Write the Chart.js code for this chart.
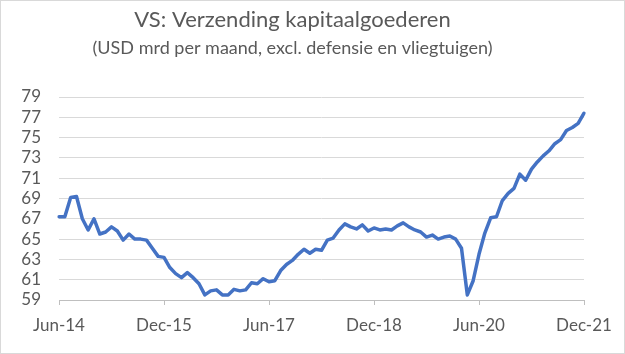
<!DOCTYPE html>
<html>
<head>
<meta charset="utf-8">
<script src="https://cdn.jsdelivr.net/npm/chart.js@4"></script>
<style>
  html, body { margin: 0; padding: 0; background: #fff; }
  #wrap {
    width: 625px; height: 354px; box-sizing: border-box;
    border: 1px solid #d9d9d9; background: #fff; position: relative;
  }
</style>
</head>
<body>
<div id="wrap"><canvas id="shipChart"></canvas></div>
<script>
// maandelijkse categorieen, jun-2014 t/m dec-2021
const months = [
  'Jun-14','Jul-14','Aug-14','Sep-14','Oct-14','Nov-14','Dec-14',
  'Jan-15','Feb-15','Mar-15','Apr-15','May-15','Jun-15','Jul-15','Aug-15','Sep-15','Oct-15','Nov-15','Dec-15',
  'Jan-16','Feb-16','Mar-16','Apr-16','May-16','Jun-16','Jul-16','Aug-16','Sep-16','Oct-16','Nov-16','Dec-16',
  'Jan-17','Feb-17','Mar-17','Apr-17','May-17','Jun-17','Jul-17','Aug-17','Sep-17','Oct-17','Nov-17','Dec-17',
  'Jan-18','Feb-18','Mar-18','Apr-18','May-18','Jun-18','Jul-18','Aug-18','Sep-18','Oct-18','Nov-18','Dec-18',
  'Jan-19','Feb-19','Mar-19','Apr-19','May-19','Jun-19','Jul-19','Aug-19','Sep-19','Oct-19','Nov-19','Dec-19',
  'Jan-20','Feb-20','Mar-20','Apr-20','May-20','Jun-20','Jul-20','Aug-20','Sep-20','Oct-20','Nov-20','Dec-20',
  'Jan-21','Feb-21','Mar-21','Apr-21','May-21','Jun-21','Jul-21','Aug-21','Sep-21','Oct-21','Nov-21','Dec-21'
];

// USD mrd per maand
const shipments = [
  67.2, 67.2, 69.1, 69.2, 67.0, 65.9, 67.0,
  65.5, 65.7, 66.2, 65.8, 64.9, 65.5, 65.0, 65.0, 64.9, 64.1, 63.3, 63.2,
  62.2, 61.6, 61.2, 61.7, 61.2, 60.6, 59.5, 59.9, 60.0, 59.5, 59.5, 60.05,
  59.9, 60.0, 60.7, 60.6, 61.1, 60.8, 60.9, 61.9, 62.5, 62.9, 63.5, 64.0,
  63.6, 64.0, 63.9, 64.9, 65.1, 65.9, 66.5, 66.2, 66.0, 66.4, 65.8, 66.1,
  65.9, 66.0, 65.9, 66.3, 66.6, 66.2, 65.9, 65.7, 65.2, 65.4, 65.0, 65.2,
  65.3, 65.0, 64.1, 59.5, 60.9, 63.5, 65.6, 67.1, 67.2, 68.8, 69.5, 70.0,
  71.4, 70.8, 71.9, 72.6, 73.2, 73.7, 74.4, 74.8, 75.7, 76.0, 76.4, 77.4
];

const shownLabels = ['Jun-14', 'Dec-15', 'Jun-17', 'Dec-18', 'Jun-20', 'Dec-21'];

const textGrey = '#595959';
const fontFam = 'Lato, "Open Sans", sans-serif';

const ctx = document.getElementById('shipChart').getContext('2d');

new Chart(ctx, {
    type: 'line',
    data: {
        labels: months,
        datasets: [{
            label: 'Verzending kapitaalgoederen',
            data: shipments,
            borderColor: '#4472c4',
            borderWidth: 3.5,
            pointRadius: 0,
            tension: 0,
            fill: false,
            borderJoinStyle: 'round',
            borderCapStyle: 'round'
        }]
    },
    options: {
        responsive: true,
        maintainAspectRatio: false,
        animation: false,
        layout: { padding: { left: 0, right: 40, top: 0, bottom: 0 } },
        plugins: {
            legend: { display: false },
            tooltip: { enabled: false },
            title: {
                display: true,
                text: 'VS: Verzending kapitaalgoederen',
                color: textGrey,
                font: { family: fontFam, size: 22, weight: 'normal' },
                padding: { top: 6, bottom: 0 }
            },
            subtitle: {
                display: true,
                text: '(USD mrd per maand, excl. defensie en vliegtuigen)',
                color: textGrey,
                font: { family: fontFam, size: 18, weight: 'normal' },
                padding: { top: 4, bottom: 38 }
            }
        },
        scales: {
            x: {
                offset: false,
                border: { display: true, color: '#bfbfbf', width: 1 },
                grid: {
                    drawOnChartArea: false,
                    drawTicks: true,
                    tickLength: 5,
                    color: function (c) {
                        return shownLabels.includes(months[c.index]) ? '#bfbfbf' : 'rgba(0,0,0,0)';
                    }
                },
                ticks: {
                    autoSkip: false,
                    maxRotation: 0,
                    padding: 10,
                    color: textGrey,
                    font: { family: fontFam, size: 17 },
                    callback: function (val, i) {
                        return shownLabels.includes(months[i]) ? months[i] : '';
                    }
                },
                afterFit: function (scale) { scale.height = 53; }
            },
            y: {
                min: 59,
                max: 79,
                border: { display: false },
                grid: { color: '#d9d9d9', lineWidth: 1, drawTicks: false },
                ticks: {
                    stepSize: 2,
                    autoSkip: false,
                    padding: 18,
                    color: textGrey,
                    font: { family: fontFam, size: 17 }
                },
                afterFit: function (scale) { scale.width = 58; }
            }
        }
    }
});
</script>
</body>
</html>
